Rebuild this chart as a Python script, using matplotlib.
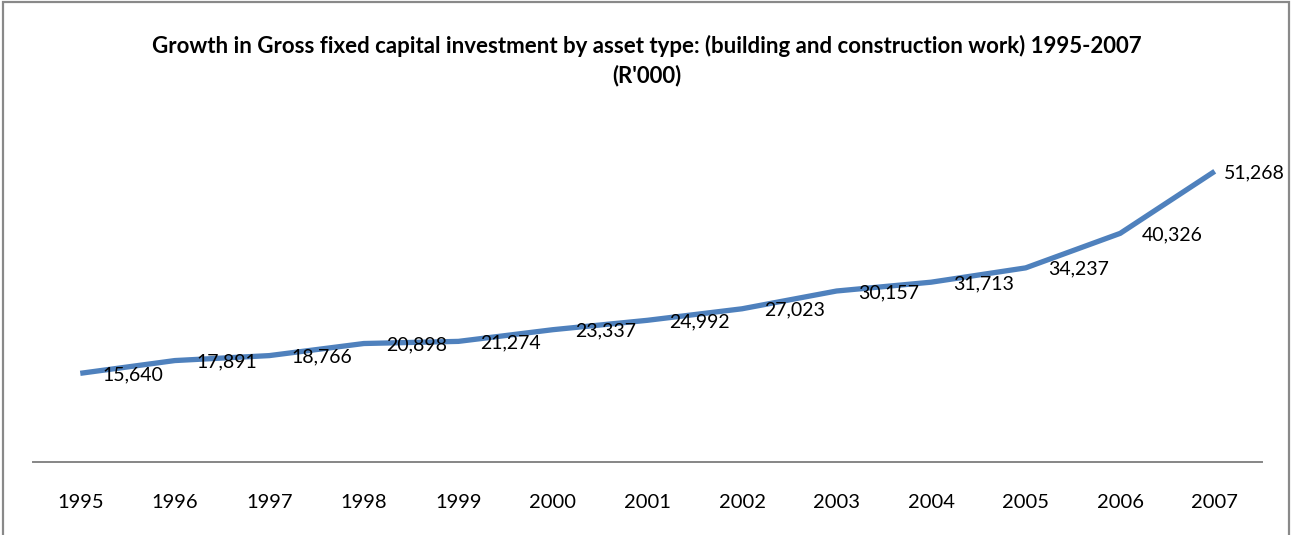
import matplotlib.pyplot as plt
from matplotlib.patches import Rectangle

years = ['1995', '1996', '1997', '1998', '1999', '2000', '2001',
         '2002', '2003', '2004', '2005', '2006', '2007']
values = [15640, 17891, 18766, 20898, 21274, 23337, 24992,
          27023, 30157, 31713, 34237, 40326, 51268]

plt.rcParams['font.family'] = ['Lato', 'DejaVu Sans']

fig = plt.figure(figsize=(12.99, 5.35), dpi=100)
ax = fig.add_axes([33 / 1299, 73 / 535, 1229 / 1299, 340.2 / 535])

x = list(range(len(years)))
ax.plot(x, values, color='#4F81BD', lw=3.8, solid_capstyle='butt')

# data labels to the right of each point
for i, v in enumerate(values):
    dx = 9 if i == len(values) - 1 else 22
    ax.annotate(f'{v:,}', (i, v), xytext=(dx * 0.72, -1), textcoords='offset points',
                ha='left', va='center', fontsize=14, color='black')

ax.set_xlim(-0.5, len(years) - 0.5)
ax.set_ylim(0, 60000)
ax.set_xticks(x)
ax.set_xticklabels(years, fontsize=14.5)
ax.tick_params(axis='x', length=0, pad=23)
ax.set_yticks([])
for s in ['top', 'right', 'left']:
    ax.spines[s].set_visible(False)
ax.spines['bottom'].set_color('#868686')
ax.spines['bottom'].set_linewidth(1.4)
ax.patch.set_alpha(0)

fig.text(647 / 1299, 1 - 46 / 535, 'Growth in Gross fixed capital investment by asset type: '
         '(building and construction work) 1995-2007',
         ha='center', va='center', fontsize=16, fontweight='bold')
fig.text(647 / 1299, 1 - 76 / 535, "(R'000)", ha='center', va='center',
         fontsize=16, fontweight='bold')

# chart border
fig.patches.append(Rectangle((3 / 1299, -0.05), 1286 / 1299, 1.05 - 1.5 / 535,
                             transform=fig.transFigure, fill=False,
                             edgecolor='#898989', lw=1.6))

fig.savefig('out.png', dpi=100)
